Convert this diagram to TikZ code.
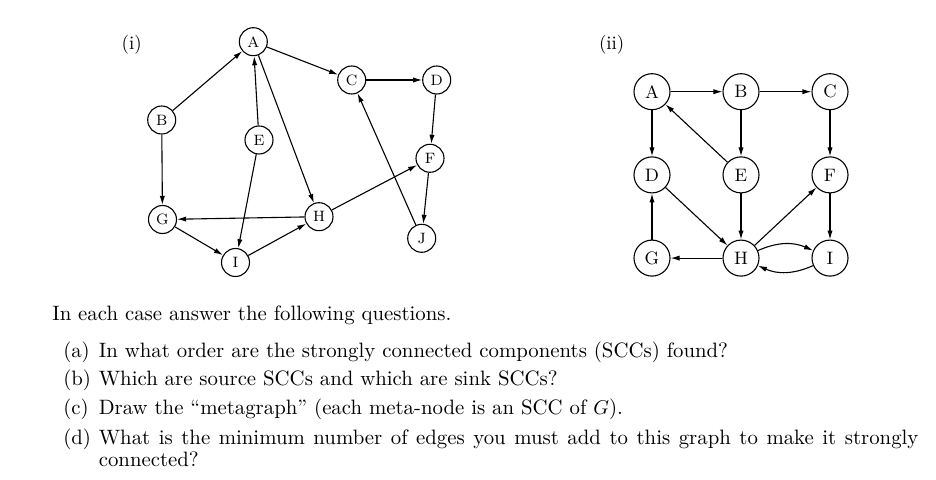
\documentclass[tikz,border=0pt]{standalone}
\usetikzlibrary{arrows.meta}
\begin{document}
\begin{tikzpicture}[x=0.5pt, y=-0.5pt, line width=0.55pt,
    >={Latex[length=4.5pt,width=2.6pt]},
    vsmall/.style={draw, circle, inner sep=0pt, minimum size=14pt, font=\fontsize{7.5}{8}\selectfont},
    vbig/.style={draw, circle, inner sep=0pt, minimum size=18pt, font=\fontsize{9}{10}\selectfont},
    qline/.style={anchor=base west, inner sep=0pt, font=\fontsize{10.4}{11.4}\selectfont},
    caselabel/.style={font=\fontsize{9.5}{10}\selectfont}]
    \useasboundingbox (0,0) rectangle (936,480);

    % Graph (i)
    \node[caselabel] (labi) at (131.7,45) {(i)};
    \node[vsmall] (a1) at (253.3,41.7) {A};
    \node[vsmall] (b1) at (161.7,120) {B};
    \node[vsmall] (c1) at (351.7,80) {C};
    \node[vsmall] (d1) at (436.7,80) {D};
    \node[vsmall] (e1) at (259,140) {E};
    \node[vsmall] (f1) at (430,158.3) {F};
    \node[vsmall] (g1) at (162.5,219.5) {G};
    \node[vsmall] (h1) at (319,216.7) {H};
    \node[vsmall] (i1) at (235.5,262.5) {I};
    \node[vsmall] (j1) at (421.7,238.3) {J};

    \draw[->] (b1) -- (a1);
    \draw[->] (b1) -- (g1);
    \draw[->] (a1) -- (c1);
    \draw[->] (a1) -- (h1);
    \draw[->] (e1) -- (a1);
    \draw[->] (e1) -- (i1);
    \draw[->] (c1) -- (d1);
    \draw[->] (d1) -- (f1);
    \draw[->] (f1) -- (j1);
    \draw[->] (j1) -- (c1);
    \draw[->] (h1) -- (f1);
    \draw[->] (h1) -- (g1);
    \draw[->] (g1) -- (i1);
    \draw[->] (i1) -- (h1);

    % Graph (ii)
    \node[caselabel] (labii) at (611.7,45) {(ii)};
    \node[vbig] (a2) at (652,91.7) {A};
    \node[vbig, right of=a2, node distance=44.5pt] (b2) {B};
    \node[vbig, right of=b2, node distance=44.5pt] (c2) {C};
    \node[vbig, below of=a2, node distance=41.6pt] (d2) {D};
    \node[vbig, below of=b2, node distance=41.6pt] (e2) {E};
    \node[vbig, below of=c2, node distance=41.6pt] (f2) {F};
    \node[vbig, below of=d2, node distance=41.6pt] (g2) {G};
    \node[vbig, below of=e2, node distance=41.6pt] (h2) {H};
    \node[vbig, below of=f2, node distance=41.6pt] (i2) {I};

    \draw[->] (a2) -- (b2);
    \draw[->] (b2) -- (c2);
    \draw[->] (a2) -- (d2);
    \draw[->] (b2) -- (e2);
    \draw[->] (e2) -- (a2);
    \draw[->] (c2) -- (f2);
    \draw[->] (d2) -- (h2);
    \draw[->] (e2) -- (h2);
    \draw[->] (g2) -- (d2);
    \draw[->] (h2) -- (g2);
    \draw[->] (h2) -- (f2);
    \draw[->] (f2) -- (i2);
    \draw[->] (h2) to[bend left=24] (i2);
    \draw[->] (i2) to[bend left=24] (h2);

    % Questions
    \node[qline] (intro) at (51.7,320.7) {In each case answer the following questions.};
    \node[qline] (qa) at (62.7,357.3) {(a)};
    \node[qline] (qb) at (62.7,386) {(b)};
    \node[qline] (qc) at (62.7,415) {(c)};
    \node[qline] (qd) at (62.7,444) {(d)};
    \node[qline] (ta) at (98.3,357.3) {In what order are the strongly connected components (SCCs) found?};
    \node[qline] (tb) at (98.3,386) {Which are source SCCs and which are sink SCCs?};
    \node[qline] (tc) at (98.3,415) {Draw the ``metagraph'' (each meta-node is an SCC of $G$).};
    \node[qline] (td) at (98.3,444) {\makebox[409.8pt][s]{What is the minimum number of edges you must add to this graph to make it strongly}};
    \node[qline] (td2) at (98.3,466.7) {connected?};
\end{tikzpicture}
\end{document}
